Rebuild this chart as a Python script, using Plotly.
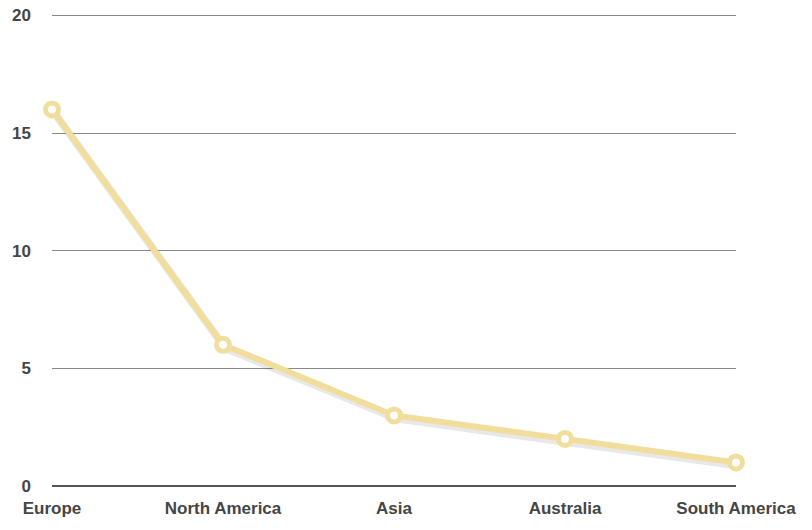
import plotly.graph_objects as go

regions = ["Europe", "North America", "Asia", "Australia", "South America"]
counts = [16, 6, 3, 2, 1]
y_ticks = [0, 5, 10, 15, 20]

line_color = "#F1DE9C"
text_color = "#454545"
label_font = dict(family="Liberation Sans", size=17, color=text_color, weight="bold")

fig = go.Figure()

# drop shadow: same data on the base axes, the real line sits on overlaid axes
fig.add_trace(
    go.Scatter(
        x=regions,
        y=counts,
        mode="lines",
        line=dict(color="rgba(0,0,0,0.09)", width=8),
        hoverinfo="skip",
        cliponaxis=False,
        showlegend=False,
    )
)

fig.add_trace(
    go.Scatter(
        x=regions,
        y=counts,
        xaxis="x2",
        yaxis="y2",
        mode="lines+markers",
        line=dict(color=line_color, width=6),
        marker=dict(
            symbol="circle",
            size=13,
            color="white",
            line=dict(color=line_color, width=5),
        ),
        cliponaxis=False,
        showlegend=False,
    )
)

fig.update_layout(
    xaxis=dict(
        type="category",
        range=[-0.012, len(regions) - 1 - 0.012],
        showgrid=False,
        zeroline=False,
        showline=False,
        showticklabels=False,
        ticks="",
        automargin=False,
    ),
    yaxis=dict(
        range=[0.13, 20.23],
        showgrid=False,
        zeroline=False,
        showticklabels=False,
        ticks="",
        automargin=False,
    ),
    xaxis2=dict(
        type="category",
        overlaying="x",
        side="bottom",
        range=[0, len(regions) - 1],
        showgrid=False,
        zeroline=False,
        showline=False,
        ticks="",
        automargin=False,
        ticklabelstandoff=10,
        ticklabeloverflow="allow",
        tickfont=label_font,
    ),
    yaxis2=dict(
        overlaying="y",
        side="left",
        range=[0, 20.1],
        tickvals=y_ticks,
        showgrid=True,
        gridcolor="#8a8a8a",
        gridwidth=1,
        zeroline=True,
        zerolinecolor="#555555",
        zerolinewidth=2,
        ticks="",
        automargin=False,
        ticklabelstandoff=20,
        ticklabeloverflow="allow",
        tickfont=label_font,
    ),
    width=812,
    height=530,
    autosize=False,
    plot_bgcolor="white",
    paper_bgcolor="white",
    margin=dict(l=44, r=84, t=5, b=52),
)

fig.write_html("out.html")
